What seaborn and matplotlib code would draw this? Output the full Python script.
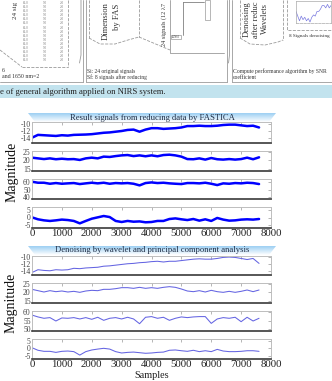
import numpy as np
import seaborn as sns
import matplotlib.pyplot as plt
from matplotlib.patches import Polygon, Rectangle
from matplotlib.colors import LinearSegmentedColormap

sns.set_theme(style="white")
plt.rcParams['font.family'] = ['Liberation Serif', 'DejaVu Serif']
plt.rcParams['axes.unicode_minus'] = False

samples = list(range(0, 7601, 200))

# signals after reducing by FASTICA
fastica_1 = [-13.8, -13.0, -13.1, -13.2, -13.3, -13.1, -13.2, -13.0, -12.95, -12.9,
             -12.8, -12.6, -12.4, -12.3, -12.1, -11.9, -11.6, -11.5, -12.1, -11.5,
             -11.1, -11.1, -11.3, -11.2, -11.1, -10.9, -10.5, -10.5, -10.4, -10.5,
             -10.5, -10.4, -10.2, -10.1, -10.1, -10.3, -10.5, -10.4, -10.9]
fastica_2 = [21.6, 21.2, 20.8, 21.2, 20.7, 21.0, 20.7, 20.8, 20.3, 21.2,
             21.6, 21.2, 22.2, 22.0, 22.5, 22.9, 23.1, 22.5, 22.9, 22.4,
             22.9, 22.4, 23.1, 23.3, 22.9, 22.2, 20.8, 20.7, 21.2, 20.5,
             21.4, 20.7, 20.5, 20.8, 20.5, 20.8, 21.6, 20.7, 21.8]
fastica_3 = [60.0, 58.7, 58.7, 57.4, 58.3, 57.4, 57.9, 58.3, 57.0, 57.9,
             58.7, 57.9, 58.7, 57.4, 58.3, 57.9, 58.3, 57.4, 55.3, 58.3,
             59.1, 58.3, 58.7, 57.9, 57.4, 57.0, 58.3, 58.3, 57.9, 58.7,
             57.4, 55.7, 57.9, 57.4, 58.3, 57.9, 58.7, 58.3, 57.0]
fastica_4 = [0.1, -1.2, -1.9, -2.3, -1.9, -1.4, -1.7, -2.3, -3.9, -2.3,
             -0.8, 0.1, 1.0, 0.3, -2.3, -3.0, -2.3, -2.8, -2.6, -3.2,
             -3.0, -2.3, -2.3, -1.0, -0.6, -1.2, -1.7, -1.0, -2.1, -1.2,
             -2.3, -0.3, -1.4, -2.1, -1.9, -1.4, -1.2, -1.4, -1.0]

# denoised by wavelet + PCA
denoised_1 = [-14.4, -13.6, -13.8, -13.9, -13.6, -13.7, -13.6, -13.2, -13.3, -13.1,
              -13.0, -12.9, -12.6, -12.5, -12.3, -12.1, -11.9, -11.8, -11.6, -11.5,
              -11.3, -11.2, -11.4, -11.2, -11.2, -11.0, -10.8, -10.6, -10.5, -10.6,
              -10.6, -10.4, -10.1, -10.0, -10.1, -10.4, -10.7, -10.4, -11.8]
denoised_2 = [21.8, 21.0, 20.2, 21.0, 20.4, 20.8, 20.2, 20.6, 20.0, 20.8,
              21.2, 21.0, 21.8, 21.8, 22.2, 22.8, 22.8, 22.4, 23.0, 22.4,
              22.8, 22.4, 23.0, 23.4, 23.0, 22.0, 20.8, 20.4, 21.0, 20.2,
              21.2, 20.4, 20.0, 20.6, 20.0, 20.6, 21.4, 20.4, 21.4]
denoised_3 = [58.4, 57.3, 56.5, 56.9, 54.9, 56.7, 56.5, 56.9, 56.1, 56.9,
              55.9, 57.1, 55.3, 56.5, 56.9, 56.1, 57.1, 56.1, 53.3, 57.1,
              57.5, 56.5, 57.1, 55.3, 56.5, 57.3, 56.9, 57.3, 57.5, 57.5,
              53.5, 56.1, 56.9, 56.5, 57.1, 54.5, 57.1, 54.9, 56.5]
denoised_4 = [0.3, -1.4, -2.1, -2.1, -2.8, -2.1, -1.9, -2.3, -4.6, -2.3,
              -1.2, -0.6, -0.1, -0.6, -2.3, -3.2, -2.8, -2.6, -3.0, -3.4,
              -3.2, -2.8, -2.6, -1.4, -1.2, -1.7, -2.1, -1.4, -2.3, -1.7,
              -2.3, -0.8, -1.9, -2.3, -2.3, -2.1, -1.7, -1.7, -2.1]

upper_yticks = [[-10, -12, -14], [25, 20, 15], [60, 50, 40], [5, 0, -5]]
lower_yticks = [[-10, -12, -14], [25, 20, 15], [60, 55, 50], [5, 0, -5]]
xticks = list(range(0, 8001, 1000))

# table rows in the flowchart fragment
table_rows = [["16.0", "5.0", "2.0"]] * 15

W, H = 332, 381
fig = plt.figure(figsize=(W / 100, H / 100), dpi=100)
fig.patch.set_facecolor("white")

# background layer in pixel coordinates
bg = fig.add_axes([0, 0, 1, 1])
bg.axis("off")
gray = "#9a9a9a"
txt = "#333333"

# caption bar
bg.add_patch(Rectangle((0, 85), W, 13, color="#c2e3ee", lw=0))
bg.text(0.5, 91.5, "e of general algorithm applied on NIRS system.", fontsize=6.2,
        color="#222222", va="center", ha="left")

# flowchart fragment: panel borders
for xs, ys in [([83, 83], [0, 82]), ([0, 83], [81.5, 81.5]),
               ([86, 86], [0, 82]), ([86, 227], [81.5, 81.5]), ([227, 227], [0, 82]),
               ([232, 232], [0, 82]), ([232, 332], [82, 82]),
               ([81, 81, 79.5], [0, 55, 63]), ([229.5, 229.5, 228.5], [0, 55, 63])]:
    bg.plot(xs, ys, color=gray, lw=0.6)


def vtext(x, y, s, size):
    bg.text(x, y, s, rotation=90, fontsize=size, color=txt, ha="left", va="center",
            rotation_mode="anchor")


# left panel
bg.plot([68, 68], [0, 67], color=gray, lw=0.6, ls="--")
bg.plot([22, 68], [67, 67], color=gray, lw=0.6, ls="--")
bg.plot([0, 22], [50, 67], color=gray, lw=0.6, ls="--")
for i, row in enumerate(table_rows):
    for xc, val in zip([26, 45, 62], row):
        bg.text(xc, 3 + i * 4.1, val, fontsize=2.3, color="#777777", ha="center", va="center")
vtext(15, 19, "24 sig", 5)
bg.text(2, 70, "6", fontsize=4.2, color=txt, va="center")
bg.text(2, 76.5, "and 1650 nm=2", fontsize=4.2, color=txt, va="center")

# middle panel
bg.plot([89, 89], [0, 38], color=gray, lw=0.6, ls="--")
bg.plot([89, 100, 115, 128, 139], [38, 44, 44, 40, 37], color=gray, lw=0.6, ls="--")
bg.plot([139, 139], [0, 37], color=gray, lw=0.6, ls="--")
bg.plot([139, 170], [37, 50], color=gray, lw=0.6, ls="--")
vtext(106, 40, "Dimension", 6.2)
vtext(117, 30, "by FAS", 6.2)
vtext(164, 46, "24 signals (12 λ7", 4.5)
bg.plot([170, 170, 224], [0, 53, 53], color=gray, lw=0.6)
bg.add_patch(Rectangle((171, 35), 10, 4, fill=False, ec=gray, lw=0.5))
bg.text(176, 37, "SENSI", fontsize=2, color=txt, ha="center", va="center")
bg.plot([183, 183], [2, 35], color="#666666", lw=0.5)
bg.plot([183, 204], [2, 2], color="#666666", lw=0.5)
bg.add_patch(Rectangle((205, 0), 5, 20, fill=False, ec=gray, lw=0.5))
bg.text(87, 71, "Si: 24 original signals", fontsize=4, color=txt, va="center")
bg.text(87, 77.5, "Sf: 8 signals after reducing", fontsize=4, color=txt, va="center")

# right panel
bg.plot([240, 240], [0, 38], color=gray, lw=0.6, ls="--")
bg.plot([240, 250, 265, 278, 283], [38, 44, 45, 42, 40], color=gray, lw=0.6, ls="--")
bg.plot([283, 283], [0, 40], color=gray, lw=0.6, ls="--")
vtext(247, 37, "Denoising", 6.2)
vtext(256, 38, "after reduc", 6)
vtext(265, 34, "Wavelets", 6)
bg.plot([287, 287, 332], [0, 30, 30], color=gray, lw=0.6, ls="--")
bg.text(289, 36, "8 Signals denoising", fontsize=3.7, color=txt, va="center")
bg.text(233, 71, "Compute performance algorithm by SNR", fontsize=4.1, color=txt, va="center")
bg.text(233, 77.5, "coefficient", fontsize=4.1, color=txt, va="center")

# title banners with gradient
cmap = LinearSegmentedColormap.from_list("banner", ["#9ccff3", "#ffffff"])
grad = np.linspace(0, 1, 64).reshape(-1, 1)
for top, title in [(113, "Result signals from reducing data by FASTICA"),
                   (246, "Denoising by wavelet and principal component analysis")]:
    bot = top + 9
    im = bg.imshow(grad, cmap=cmap, extent=(28, 276, bot, top), aspect="auto", zorder=1)
    poly = Polygon([(28, top), (276, top), (269, bot), (35, bot)], closed=True,
                   facecolor="none", edgecolor="none", transform=bg.transData)
    bg.add_patch(poly)
    im.set_clip_path(poly)
    bg.text(152, top + 4.5, title, fontsize=6.2, color="#1f2d45", ha="center", va="center", zorder=2)

# axis titles
bg.text(12, 172, "Magnitude", rotation=90, fontsize=10, color="#111111", ha="center", va="center")
bg.text(11, 303, "Magnitude", rotation=90, fontsize=10, color="#111111", ha="center", va="center")
bg.text(152, 376, "Samples", fontsize=7.4, color="#222222", ha="center", va="center")

bg.set_xlim(0, W)
bg.set_ylim(H, 0)

# small preview chart inside the right panel
ins = fig.add_axes([296 / W, 1 - 23 / H, 35 / W, 22 / H])
sns.lineplot(x=samples, y=denoised_2, ax=ins, color="#7a7ae0", linewidth=0.5)
ins.set_xlim(0, 4000)
ins.set_xticks([])
ins.set_yticks([])
ins.set_xlabel("")
ins.set_ylabel("")
for side in ins.spines:
    ins.spines[side].set_color("#aaaaaa")
    ins.spines[side].set_linewidth(0.5)
ins.spines["bottom"].set_linestyle("--")

# data panels
left, right = 32, 271
groups = [
    ([fastica_1, fastica_2, fastica_3, fastica_4], upper_yticks,
     [(122, 143, (-15.3, -9.35)), (151, 171, (14.0, 25.4)), (179, 199, (37.8, 63.5)),
      (207, 228, (-7.0, 7.0))], "#0000ff", 1.8),
    ([denoised_1, denoised_2, denoised_3, denoised_4], lower_yticks,
     [(256, 275, (-15.1, -9.7)), (283, 303, (13.6, 25.6)), (311, 331, (49.0, 60.8)),
      (339, 359, (-7.2, 6.1))], "#6464e2", 0.75),
]

for series, yt, boxes, color, lw in groups:
    for k, (sig, ticks, (ytop, ybot, ylim)) in enumerate(zip(series, yt, boxes)):
        ax = fig.add_axes([left / W, 1 - ybot / H, (right - left) / W, (ybot - ytop) / H])
        sns.lineplot(x=samples, y=sig, ax=ax, color=color, linewidth=lw)
        ax.set_xlim(0, 8000)
        ax.set_ylim(*ylim)
        ax.set_xticks(xticks)
        ax.set_yticks(ticks)
        ax.set_xlabel("")
        ax.set_ylabel("")
        ax.tick_params(axis="both", direction="in", length=2, width=0.5, color="#999999",
                       top=True, right=True, pad=1)
        ax.tick_params(axis="y", labelsize=5.5, labelcolor="#444444")
        ax.tick_params(axis="x", labelsize=7.8, labelcolor="#222222")
        if k < 3:
            ax.tick_params(axis="x", labelbottom=False)
        for side in ["left", "top", "right"]:
            ax.spines[side].set_color("#bdbdbd")
            ax.spines[side].set_linewidth(0.7)
        ax.spines["bottom"].set_color("#3a3a3a")
        ax.spines["bottom"].set_linewidth(1.2)

fig.savefig("out.png", dpi=100)
